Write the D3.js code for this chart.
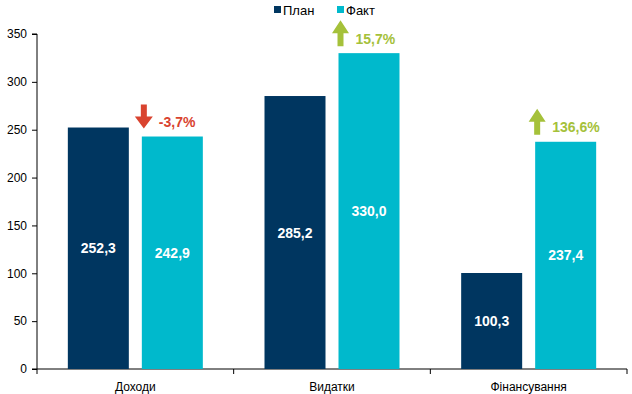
<!DOCTYPE html>
<html>
<head>
<meta charset="utf-8">
<script src="https://cdn.jsdelivr.net/npm/d3@7"></script>
<style>
  body { margin: 0; background: #fff; }
  svg { font-family: "Liberation Sans", Arial, sans-serif; }
</style>
</head>
<body>
<svg id="chart" width="632" height="394"></svg>
<script>
// data
let categories = ["Доходи", "Видатки", "Фінансування"];
let plan = [252.3, 285.2, 100.3];
let fact = [242.9, 330.0, 237.4];
let change = ["-3,7%", "15,7%", "136,6%"];
let direction = ["down", "up", "up"];
let yTicks = [0, 50, 100, 150, 200, 250, 300, 350];

let planColor = "#003660";
let factColor = "#00B9CC";
let downColor = "#D9432F";
let upColor = "#A5C13A";

let svg = d3.select("#chart");
let plotLeft = 37, plotRight = 627, plotTop = 34, plotBottom = 369;

let x = d3.scaleBand().domain(categories).range([plotLeft, plotRight]);
let y = d3.scaleLinear().domain([0, 350]).range([plotBottom, plotTop]);

let barW = 61, gap = 13;
let fmt = v => v.toFixed(1).replace(".", ",");

// y axis
let yAxis = svg.append("g")
    .attr("transform", "translate(" + plotLeft + ",0)")
    .call(d3.axisLeft(y).tickValues(yTicks).tickSize(5).tickFormat(d => d));
yAxis.select(".domain").attr("stroke", "#000").attr("d", "M-5," + plotTop + "H0V" + plotBottom + "H-5");
yAxis.selectAll(".tick line").attr("stroke", "#000");
yAxis.selectAll(".tick text").attr("font-size", 12).attr("fill", "#000")
    .attr("font-family", "Liberation Sans, Arial, sans-serif").attr("x", -10);

// x axis
let xAxis = svg.append("g")
    .attr("transform", "translate(0," + plotBottom + ")");
xAxis.append("line").attr("x1", plotLeft).attr("x2", plotRight).attr("stroke", "#000");
let bounds = categories.map(c => x(c)).concat([plotRight]);
xAxis.selectAll("line.tk").data(bounds).enter().append("line")
    .attr("class", "tk")
    .attr("x1", d => d).attr("x2", d => d)
    .attr("y1", 0).attr("y2", 5).attr("stroke", "#000");
xAxis.selectAll("text").data(categories).enter().append("text")
    .attr("x", d => x(d) + x.bandwidth() / 2)
    .attr("y", 22)
    .attr("text-anchor", "middle")
    .attr("font-size", 12)
    .text(d => d);

function planX(i) { return x(categories[i]) + x.bandwidth() / 2 - gap / 2 - barW; }
function factX(i) { return x(categories[i]) + x.bandwidth() / 2 + gap / 2; }

// bars
svg.selectAll("rect.plan").data(plan).enter().append("rect")
    .attr("class", "plan")
    .attr("x", (d, i) => planX(i))
    .attr("y", d => y(d))
    .attr("width", barW)
    .attr("height", d => plotBottom - y(d))
    .attr("fill", planColor);
svg.selectAll("rect.fact").data(fact).enter().append("rect")
    .attr("class", "fact")
    .attr("x", (d, i) => factX(i))
    .attr("y", d => y(d))
    .attr("width", barW)
    .attr("height", d => plotBottom - y(d))
    .attr("fill", factColor);

// value labels
svg.selectAll("text.pv").data(plan).enter().append("text")
    .attr("class", "pv")
    .attr("x", (d, i) => planX(i) + barW / 2)
    .attr("y", d => (y(d) + plotBottom) / 2 + 5)
    .attr("text-anchor", "middle")
    .attr("font-size", 14).attr("font-weight", "bold").attr("fill", "#fff")
    .text(d => fmt(d));
svg.selectAll("text.fv").data(fact).enter().append("text")
    .attr("class", "fv")
    .attr("x", (d, i) => factX(i) + barW / 2)
    .attr("y", d => (y(d) + plotBottom) / 2 + 5)
    .attr("text-anchor", "middle")
    .attr("font-size", 14).attr("font-weight", "bold").attr("fill", "#fff")
    .text(d => fmt(d));

// change arrows + percentages
fact.forEach((v, i) => {
    let ax = factX(i) + 2;
    let top0 = y(v);
    let col = direction[i] == "up" ? upColor : downColor;
    let g = svg.append("g").attr("transform", "translate(" + ax + "," + top0 + ")");
    if (direction[i] == "up") {
        g.append("path")
            .attr("d", "M-3,-7V-20H-8.5L0,-33L8.5,-20H3V-7Z")
            .attr("fill", col);
    } else {
        g.append("path")
            .attr("d", "M-3,-32V-20H-9L0,-8L9,-20H3V-32Z")
            .attr("fill", col);
    }
    svg.append("text")
        .attr("x", ax + 15)
        .attr("y", top0 - 9.5)
        .attr("font-size", 14).attr("font-weight", "bold").attr("fill", col)
        .text(change[i]);
});

// legend
let legend = svg.append("g").attr("transform", "translate(274,4)");
[["План", planColor, 0], ["Факт", factColor, 63]].forEach(l => {
    legend.append("rect").attr("x", l[2]).attr("y", 2).attr("width", 7).attr("height", 7).attr("fill", l[1]);
    legend.append("text").attr("x", l[2] + 9).attr("y", 11).attr("font-size", 13).text(l[0]);
});
</script>
</body>
</html>
